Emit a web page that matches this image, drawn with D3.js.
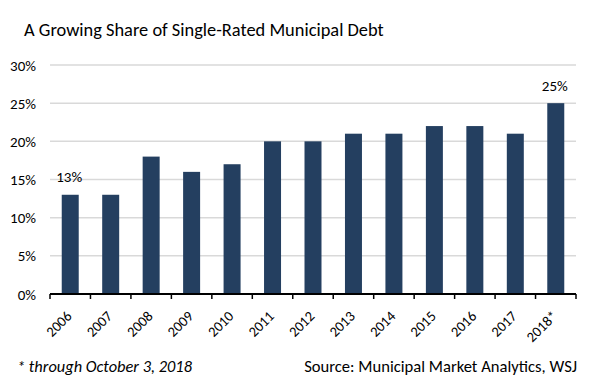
<!DOCTYPE html>
<html>
<head>
<meta charset="utf-8">
<script src="https://cdn.jsdelivr.net/npm/d3@7"></script>
<style>
  body { margin: 0; background: #fff; }
  svg { font-family: Carlito, Calibri, Lato, sans-serif; }
</style>
</head>
<body>
<svg id="chart" width="594" height="380"></svg>
<script>
// data
const years = ["2006", "2007", "2008", "2009", "2010", "2011", "2012", "2013", "2014", "2015", "2016", "2017", "2018*"];
const shares = [13, 13, 18, 16, 17, 20, 20, 21, 21, 22, 22, 21, 25];
const yTicks = [0, 5, 10, 15, 20, 25, 30];
const labelled = ["2006", "2018*"];

const svg = d3.select("#chart");
const plotLeft = 50, plotRight = 576, plotTop = 65, plotBottom = 294;

const x = d3.scaleBand().domain(years).range([plotLeft, plotRight]).paddingInner(0.58).paddingOuter(0.29);
const y = d3.scaleLinear().domain([0, 30]).range([plotBottom, plotTop]);

// title
svg.append("text")
    .attr("x", 24).attr("y", 36)
    .style("font-size", "18.4px")
    .text("A Growing Share of Single-Rated Municipal Debt");

// gridlines
svg.selectAll("line.grid")
    .data(yTicks.filter(d => d > 0))
    .enter().append("line")
    .attr("x1", plotLeft).attr("x2", plotRight)
    .attr("y1", d => y(d)).attr("y2", d => y(d))
    .attr("stroke", "#d9d9d9").attr("stroke-width", 1.5);

// y tick labels
svg.selectAll("text.ytick")
    .data(yTicks)
    .enter().append("text")
    .attr("x", 36).attr("y", d => y(d) + 5.5)
    .attr("text-anchor", "end")
    .style("font-size", "15px")
    .text(d => d + "%");

// bars
svg.selectAll("rect")
    .data(years)
    .enter().append("rect")
    .attr("x", d => x(d))
    .attr("y", (d, i) => y(shares[i]))
    .attr("width", x.bandwidth())
    .attr("height", (d, i) => plotBottom - y(shares[i]))
    .attr("fill", "#243f60");

// value labels on first and last bars
svg.selectAll("text.val")
    .data(years.filter(d => labelled.includes(d)))
    .enter().append("text")
    .attr("x", d => x(d) + x.bandwidth() / 2 - 1)
    .attr("y", d => y(shares[years.indexOf(d)]) - 12.5)
    .attr("text-anchor", "middle")
    .style("font-size", "15px")
    .text(d => shares[years.indexOf(d)] + "%");

// x axis
const step = x.step();
svg.append("line")
    .attr("x1", plotLeft).attr("x2", plotRight)
    .attr("y1", plotBottom).attr("y2", plotBottom)
    .attr("stroke", "#000").attr("stroke-width", 2);

const tickPos = d3.range(years.length + 1).map(i => plotLeft + i * step);
svg.selectAll("line.xtick")
    .data(tickPos)
    .enter().append("line")
    .attr("x1", d => d).attr("x2", d => d)
    .attr("y1", plotBottom).attr("y2", plotBottom + 5)
    .attr("stroke", "#000").attr("stroke-width", 1.5);

svg.selectAll("text.xlab")
    .data(years)
    .enter().append("text")
    .attr("text-anchor", "end")
    .attr("transform", d => `translate(${x(d) + x.bandwidth() / 2 + 2.5},${plotBottom + 23}) rotate(-45)`)
    .style("font-size", "14.5px")
    .text(d => d);

// footnotes
svg.append("text")
    .attr("x", 17).attr("y", 372)
    .style("font-size", "16.4px").style("font-style", "italic")
    .text("* through October 3, 2018");

svg.append("text")
    .attr("x", 577).attr("y", 372)
    .attr("text-anchor", "end")
    .style("font-size", "16.6px")
    .text("Source: Municipal Market Analytics, WSJ");
</script>
</body>
</html>
